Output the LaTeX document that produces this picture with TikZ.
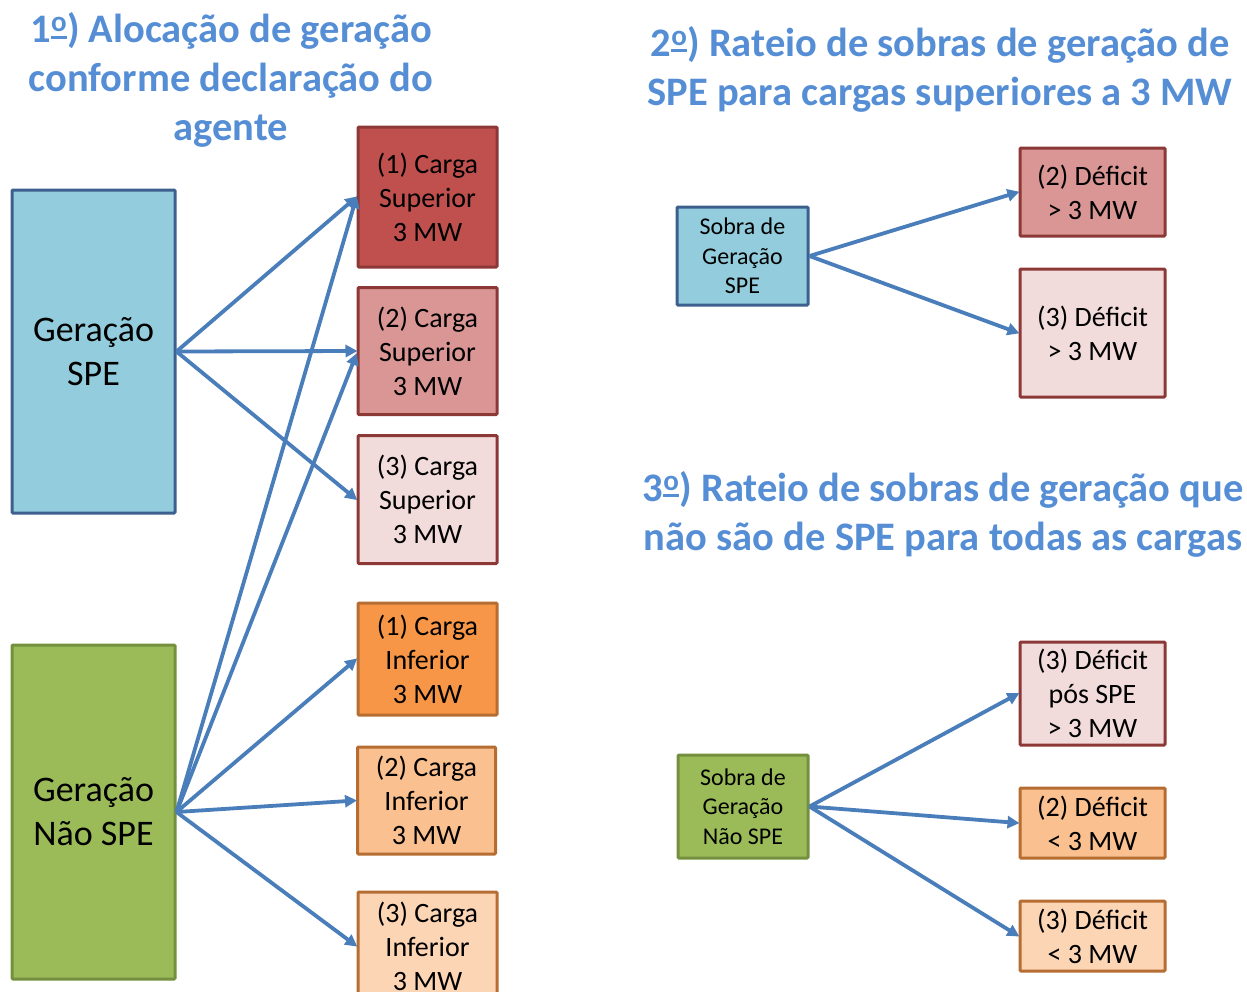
\documentclass[tikz,border=0pt]{standalone}
\usepackage{fontspec}
\setmainfont{Carlito}
\usetikzlibrary{arrows.meta}
\definecolor{titleblue}{HTML}{558ED5}
\definecolor{arrowblue}{HTML}{4A7EBB}
\definecolor{aquafill}{HTML}{93CDDD}
\definecolor{aquadraw}{HTML}{3C5F8E}
\definecolor{greenfill}{HTML}{9BBB59}
\definecolor{greendraw}{HTML}{74903E}
\definecolor{redA}{HTML}{C0504D}
\definecolor{redB}{HTML}{D99694}
\definecolor{redC}{HTML}{F2DCDB}
\definecolor{reddraw}{HTML}{8C3836}
\definecolor{orA}{HTML}{F79646}
\definecolor{orB}{HTML}{FAC090}
\definecolor{orC}{HTML}{FCD5B5}
\definecolor{ordraw}{HTML}{B66D31}
\newcommand\myordm{{\setbox0\hbox{\fontsize{29}{29}\selectfont\bfseries o}\kern0.5pt\raisebox{11pt}{\copy0}\kern-\wd0\raisebox{4pt}{\rule{\wd0}{3pt}}\kern0.5pt}}
\tikzset{
  box/.style={draw, line width=3pt, inner sep=0pt, align=center, rounded corners=1pt},
  spebox/.style={box, fill=aquafill, draw=aquadraw},
  nspebox/.style={box, fill=greenfill, draw=greendraw},
  redbox/.style={box, draw=reddraw},
  orbox/.style={box, draw=ordraw},
  big/.style={font=\fontsize{36}{44}\selectfont},
  mid/.style={font=\fontsize{28}{34}\selectfont},
  small/.style={font=\fontsize{24}{29.5}\selectfont},
  ttl/.style={align=center, text=titleblue, font=\fontsize{40.5}{49}\selectfont\bfseries},
  arr/.style={draw=arrowblue, line width=3.8pt, -{Triangle[length=12pt,width=12pt]}, shorten >=-1pt}
}
\begin{document}
\begin{tikzpicture}[x=1pt,y=-1pt]
\useasboundingbox (0,0) rectangle (1247,991);
% titles
\node[ttl] (t1) at (231,80) {1\myordm) Alocação de geração\\conforme declaração do\\agente};
\node[ttl] (t2) at (940,69) {2\myordm) Rateio de sobras de geração de\\SPE para cargas superiores a 3 MW};
\node[ttl] (t3) at (943,514) {3\myordm) Rateio de sobras de geração que\\não são de SPE para todas as cargas};
% left
\node[spebox, big, minimum width=163pt, minimum height=323pt] (gs) at (93.5,351.5) {Geração\\SPE};
\node[nspebox, big, minimum width=163pt, minimum height=334pt] (gn) at (93.5,812) {Geração\\Não SPE};
\node[redbox, mid, fill=redA, minimum width=139pt, minimum height=140pt] (s1) at (427.5,197) {(1) Carga\\Superior\\3 MW};
\node[redbox, mid, fill=redB, minimum width=139pt, minimum height=127pt] (s2) at (427.5,351) {(2) Carga\\Superior\\3 MW};
\node[redbox, mid, fill=redC, minimum width=139pt, minimum height=128pt] (s3) at (427.5,499.5) {(3) Carga\\Superior\\3 MW};
\node[orbox, mid, fill=orA, minimum width=139pt, minimum height=112pt] (i1) at (427.5,659) {(1) Carga\\Inferior\\3 MW};
\node[orbox, mid, fill=orB, minimum width=138pt, minimum height=107pt] (i2) at (426.5,800.5) {(2) Carga\\Inferior\\3 MW};
\node[orbox, mid, fill=orC, minimum width=139pt, minimum height=108pt] (i3) at (427.5,946) {(3) Carga\\Inferior\\3 MW};
\draw[arr] (gs.east) -- (s1.west);
\draw[arr] (gs.east) -- (s2.west);
\draw[arr] (gs.east) -- (s3.west);
\draw[arr] (gn.east) -- (s1.west);
\draw[arr] (gn.east) -- ([yshift=-3pt]s2.west);
\draw[arr] (gn.east) -- (i1.west);
\draw[arr] (gn.east) -- (i2.west);
\draw[arr] (gn.east) -- (i3.west);
% right top
\node[spebox, small, minimum width=131pt, minimum height=98pt] (ss) at (742.5,256) {Sobra de\\Geração\\SPE};
\node[redbox, mid, fill=redB, minimum width=145pt, minimum height=88pt] (d2) at (1092.5,192) {(2) Déficit\\> 3 MW};
\node[redbox, mid, fill=redC, minimum width=145pt, minimum height=128pt] (d3) at (1092.5,333) {(3) Déficit\\> 3 MW};
\draw[arr] (ss.east) -- (d2.west);
\draw[arr] (ss.east) -- (d3.west);
% right bottom
\node[nspebox, small, minimum width=130pt, minimum height=103pt] (sn) at (743,806.5) {Sobra de\\Geração\\Não SPE};
\node[redbox, mid, fill=redC, minimum width=145pt, minimum height=103pt] (e3) at (1092.5,693.5) {(3) Déficit\\pós SPE\\> 3 MW};
\node[orbox, mid, fill=orB, minimum width=145pt, minimum height=70pt] (e2) at (1092.5,823) {(2) Déficit\\< 3 MW};
\node[orbox, mid, fill=orC, minimum width=145pt, minimum height=70pt] (e4) at (1092.5,936) {(3) Déficit\\< 3 MW};
\draw[arr] (sn.east) -- (e3.west);
\draw[arr] (sn.east) -- (e2.west);
\draw[arr] (sn.east) -- (e4.west);
\end{tikzpicture}
\end{document}
